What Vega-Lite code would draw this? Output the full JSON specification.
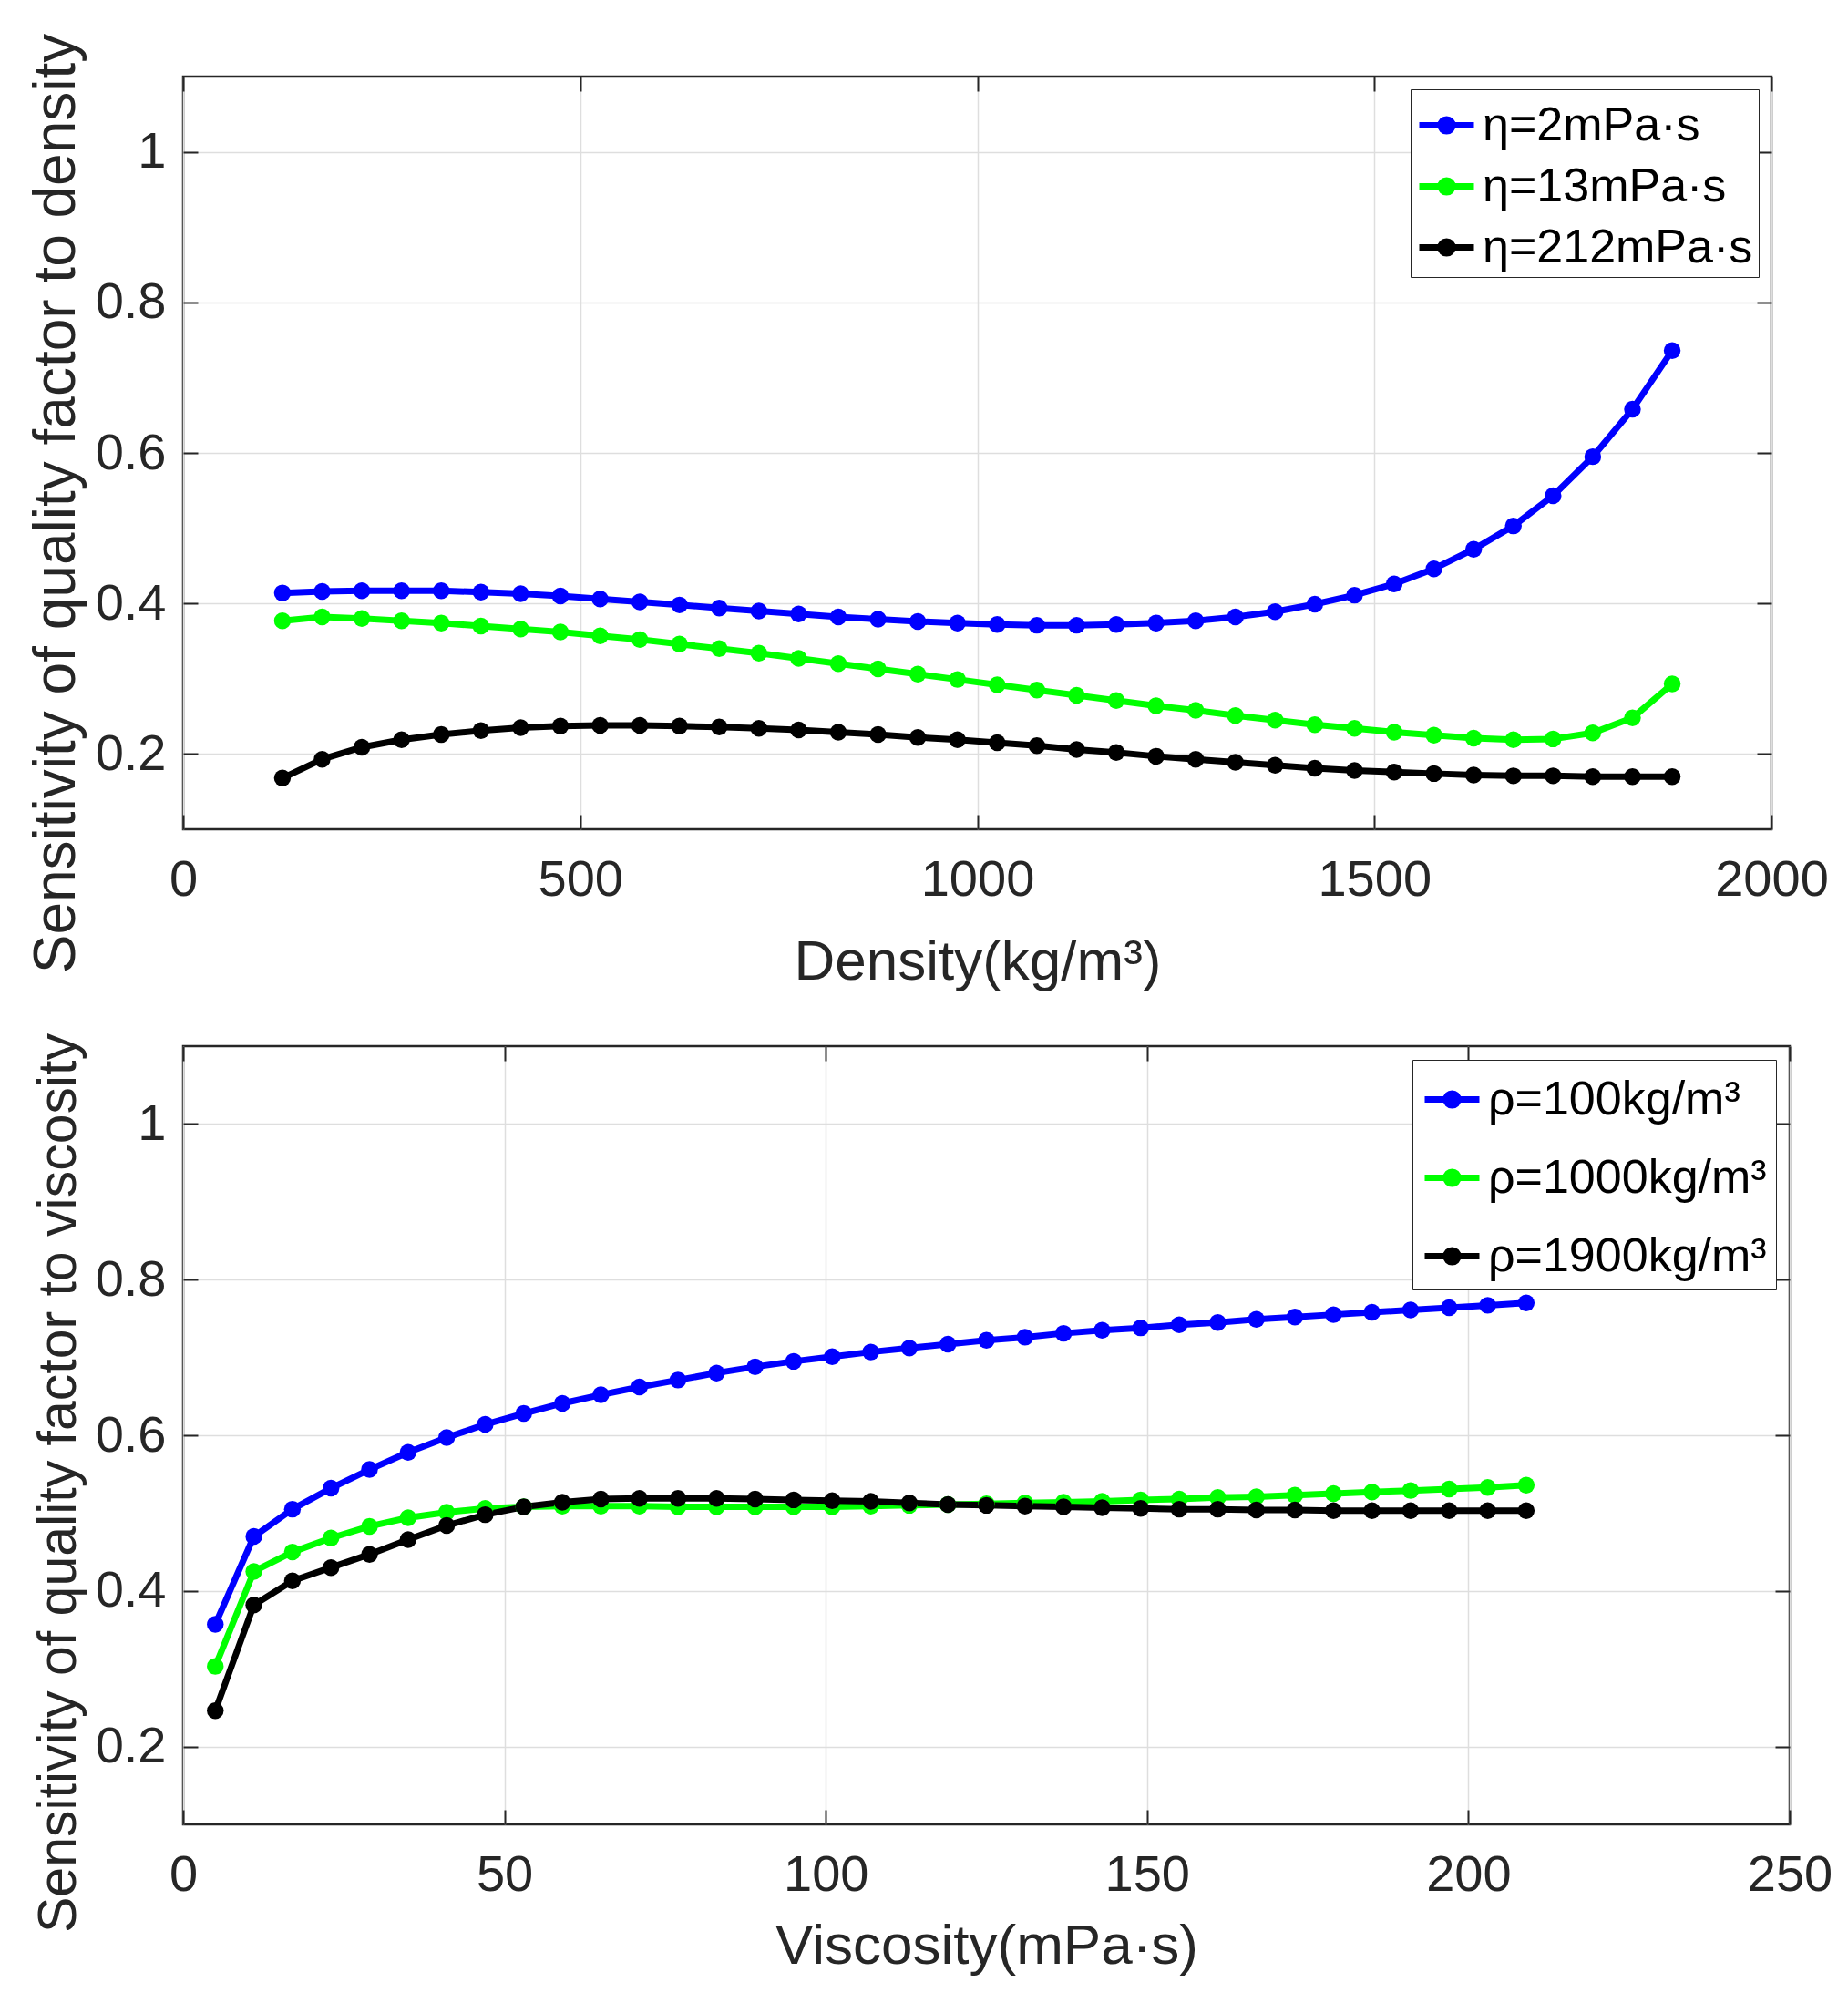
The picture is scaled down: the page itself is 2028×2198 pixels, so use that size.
{
  "$schema": "https://vega.github.io/schema/vega-lite/v6.json",
  "padding": {"left": 28, "top": 34, "right": 5, "bottom": 5},
  "background": "white",
  "datasets": {
    "density": [
      {"x": 125, "y": 0.414, "s": "η=2mPa·s"}, {"x": 175, "y": 0.416, "s": "η=2mPa·s"}, {"x": 225, "y": 0.417, "s": "η=2mPa·s"},
      {"x": 275, "y": 0.417, "s": "η=2mPa·s"}, {"x": 325, "y": 0.417, "s": "η=2mPa·s"}, {"x": 375, "y": 0.415, "s": "η=2mPa·s"},
      {"x": 425, "y": 0.413, "s": "η=2mPa·s"}, {"x": 475, "y": 0.410, "s": "η=2mPa·s"}, {"x": 525, "y": 0.406, "s": "η=2mPa·s"},
      {"x": 575, "y": 0.402, "s": "η=2mPa·s"}, {"x": 625, "y": 0.398, "s": "η=2mPa·s"}, {"x": 675, "y": 0.394, "s": "η=2mPa·s"},
      {"x": 725, "y": 0.390, "s": "η=2mPa·s"}, {"x": 775, "y": 0.386, "s": "η=2mPa·s"}, {"x": 825, "y": 0.382, "s": "η=2mPa·s"},
      {"x": 875, "y": 0.379, "s": "η=2mPa·s"}, {"x": 925, "y": 0.376, "s": "η=2mPa·s"}, {"x": 975, "y": 0.374, "s": "η=2mPa·s"},
      {"x": 1025, "y": 0.372, "s": "η=2mPa·s"}, {"x": 1075, "y": 0.371, "s": "η=2mPa·s"}, {"x": 1125, "y": 0.371, "s": "η=2mPa·s"},
      {"x": 1175, "y": 0.372, "s": "η=2mPa·s"}, {"x": 1225, "y": 0.374, "s": "η=2mPa·s"}, {"x": 1275, "y": 0.377, "s": "η=2mPa·s"},
      {"x": 1325, "y": 0.382, "s": "η=2mPa·s"}, {"x": 1375, "y": 0.389, "s": "η=2mPa·s"}, {"x": 1425, "y": 0.399, "s": "η=2mPa·s"},
      {"x": 1475, "y": 0.411, "s": "η=2mPa·s"}, {"x": 1525, "y": 0.426, "s": "η=2mPa·s"}, {"x": 1575, "y": 0.446, "s": "η=2mPa·s"},
      {"x": 1625, "y": 0.472, "s": "η=2mPa·s"}, {"x": 1675, "y": 0.503, "s": "η=2mPa·s"}, {"x": 1725, "y": 0.543, "s": "η=2mPa·s"},
      {"x": 1775, "y": 0.595, "s": "η=2mPa·s"}, {"x": 1825, "y": 0.658, "s": "η=2mPa·s"}, {"x": 1875, "y": 0.736, "s": "η=2mPa·s"},
      {"x": 125, "y": 0.377, "s": "η=13mPa·s"}, {"x": 175, "y": 0.382, "s": "η=13mPa·s"}, {"x": 225, "y": 0.380, "s": "η=13mPa·s"},
      {"x": 275, "y": 0.377, "s": "η=13mPa·s"}, {"x": 325, "y": 0.374, "s": "η=13mPa·s"}, {"x": 375, "y": 0.370, "s": "η=13mPa·s"},
      {"x": 425, "y": 0.366, "s": "η=13mPa·s"}, {"x": 475, "y": 0.362, "s": "η=13mPa·s"}, {"x": 525, "y": 0.357, "s": "η=13mPa·s"},
      {"x": 575, "y": 0.352, "s": "η=13mPa·s"}, {"x": 625, "y": 0.346, "s": "η=13mPa·s"}, {"x": 675, "y": 0.340, "s": "η=13mPa·s"},
      {"x": 725, "y": 0.334, "s": "η=13mPa·s"}, {"x": 775, "y": 0.327, "s": "η=13mPa·s"}, {"x": 825, "y": 0.320, "s": "η=13mPa·s"},
      {"x": 875, "y": 0.313, "s": "η=13mPa·s"}, {"x": 925, "y": 0.306, "s": "η=13mPa·s"}, {"x": 975, "y": 0.299, "s": "η=13mPa·s"},
      {"x": 1025, "y": 0.292, "s": "η=13mPa·s"}, {"x": 1075, "y": 0.285, "s": "η=13mPa·s"}, {"x": 1125, "y": 0.278, "s": "η=13mPa·s"},
      {"x": 1175, "y": 0.271, "s": "η=13mPa·s"}, {"x": 1225, "y": 0.264, "s": "η=13mPa·s"}, {"x": 1275, "y": 0.258, "s": "η=13mPa·s"},
      {"x": 1325, "y": 0.251, "s": "η=13mPa·s"}, {"x": 1375, "y": 0.245, "s": "η=13mPa·s"}, {"x": 1425, "y": 0.239, "s": "η=13mPa·s"},
      {"x": 1475, "y": 0.234, "s": "η=13mPa·s"}, {"x": 1525, "y": 0.229, "s": "η=13mPa·s"}, {"x": 1575, "y": 0.225, "s": "η=13mPa·s"},
      {"x": 1625, "y": 0.221, "s": "η=13mPa·s"}, {"x": 1675, "y": 0.219, "s": "η=13mPa·s"}, {"x": 1725, "y": 0.220, "s": "η=13mPa·s"},
      {"x": 1775, "y": 0.228, "s": "η=13mPa·s"}, {"x": 1825, "y": 0.248, "s": "η=13mPa·s"}, {"x": 1875, "y": 0.293, "s": "η=13mPa·s"},
      {"x": 125, "y": 0.168, "s": "η=212mPa·s"}, {"x": 175, "y": 0.193, "s": "η=212mPa·s"}, {"x": 225, "y": 0.209, "s": "η=212mPa·s"},
      {"x": 275, "y": 0.219, "s": "η=212mPa·s"}, {"x": 325, "y": 0.226, "s": "η=212mPa·s"}, {"x": 375, "y": 0.231, "s": "η=212mPa·s"},
      {"x": 425, "y": 0.235, "s": "η=212mPa·s"}, {"x": 475, "y": 0.237, "s": "η=212mPa·s"}, {"x": 525, "y": 0.238, "s": "η=212mPa·s"},
      {"x": 575, "y": 0.238, "s": "η=212mPa·s"}, {"x": 625, "y": 0.237, "s": "η=212mPa·s"}, {"x": 675, "y": 0.236, "s": "η=212mPa·s"},
      {"x": 725, "y": 0.234, "s": "η=212mPa·s"}, {"x": 775, "y": 0.232, "s": "η=212mPa·s"}, {"x": 825, "y": 0.229, "s": "η=212mPa·s"},
      {"x": 875, "y": 0.226, "s": "η=212mPa·s"}, {"x": 925, "y": 0.222, "s": "η=212mPa·s"}, {"x": 975, "y": 0.219, "s": "η=212mPa·s"},
      {"x": 1025, "y": 0.215, "s": "η=212mPa·s"}, {"x": 1075, "y": 0.211, "s": "η=212mPa·s"}, {"x": 1125, "y": 0.206, "s": "η=212mPa·s"},
      {"x": 1175, "y": 0.202, "s": "η=212mPa·s"}, {"x": 1225, "y": 0.197, "s": "η=212mPa·s"}, {"x": 1275, "y": 0.193, "s": "η=212mPa·s"},
      {"x": 1325, "y": 0.189, "s": "η=212mPa·s"}, {"x": 1375, "y": 0.185, "s": "η=212mPa·s"}, {"x": 1425, "y": 0.181, "s": "η=212mPa·s"},
      {"x": 1475, "y": 0.178, "s": "η=212mPa·s"}, {"x": 1525, "y": 0.176, "s": "η=212mPa·s"}, {"x": 1575, "y": 0.174, "s": "η=212mPa·s"},
      {"x": 1625, "y": 0.172, "s": "η=212mPa·s"}, {"x": 1675, "y": 0.171, "s": "η=212mPa·s"}, {"x": 1725, "y": 0.171, "s": "η=212mPa·s"},
      {"x": 1775, "y": 0.170, "s": "η=212mPa·s"}, {"x": 1825, "y": 0.170, "s": "η=212mPa·s"}, {"x": 1875, "y": 0.170, "s": "η=212mPa·s"}
    ],
    "viscosity": [
      {"x": 5, "y": 0.357, "s": "ρ=100kg/m³"}, {"x": 11, "y": 0.470, "s": "ρ=100kg/m³"}, {"x": 17, "y": 0.505, "s": "ρ=100kg/m³"},
      {"x": 23, "y": 0.532, "s": "ρ=100kg/m³"}, {"x": 29, "y": 0.556, "s": "ρ=100kg/m³"}, {"x": 35, "y": 0.578, "s": "ρ=100kg/m³"},
      {"x": 41, "y": 0.597, "s": "ρ=100kg/m³"}, {"x": 47, "y": 0.614, "s": "ρ=100kg/m³"}, {"x": 53, "y": 0.628, "s": "ρ=100kg/m³"},
      {"x": 59, "y": 0.641, "s": "ρ=100kg/m³"}, {"x": 65, "y": 0.652, "s": "ρ=100kg/m³"}, {"x": 71, "y": 0.662, "s": "ρ=100kg/m³"},
      {"x": 77, "y": 0.671, "s": "ρ=100kg/m³"}, {"x": 83, "y": 0.680, "s": "ρ=100kg/m³"}, {"x": 89, "y": 0.688, "s": "ρ=100kg/m³"},
      {"x": 95, "y": 0.695, "s": "ρ=100kg/m³"}, {"x": 101, "y": 0.701, "s": "ρ=100kg/m³"}, {"x": 107, "y": 0.707, "s": "ρ=100kg/m³"},
      {"x": 113, "y": 0.712, "s": "ρ=100kg/m³"}, {"x": 119, "y": 0.717, "s": "ρ=100kg/m³"}, {"x": 125, "y": 0.722, "s": "ρ=100kg/m³"},
      {"x": 131, "y": 0.726, "s": "ρ=100kg/m³"}, {"x": 137, "y": 0.731, "s": "ρ=100kg/m³"}, {"x": 143, "y": 0.735, "s": "ρ=100kg/m³"},
      {"x": 149, "y": 0.738, "s": "ρ=100kg/m³"}, {"x": 155, "y": 0.742, "s": "ρ=100kg/m³"}, {"x": 161, "y": 0.745, "s": "ρ=100kg/m³"},
      {"x": 167, "y": 0.749, "s": "ρ=100kg/m³"}, {"x": 173, "y": 0.752, "s": "ρ=100kg/m³"}, {"x": 179, "y": 0.755, "s": "ρ=100kg/m³"},
      {"x": 185, "y": 0.758, "s": "ρ=100kg/m³"}, {"x": 191, "y": 0.761, "s": "ρ=100kg/m³"}, {"x": 197, "y": 0.764, "s": "ρ=100kg/m³"},
      {"x": 203, "y": 0.767, "s": "ρ=100kg/m³"}, {"x": 209, "y": 0.770, "s": "ρ=100kg/m³"},
      {"x": 5, "y": 0.303, "s": "ρ=1000kg/m³"}, {"x": 11, "y": 0.425, "s": "ρ=1000kg/m³"}, {"x": 17, "y": 0.450, "s": "ρ=1000kg/m³"},
      {"x": 23, "y": 0.468, "s": "ρ=1000kg/m³"}, {"x": 29, "y": 0.483, "s": "ρ=1000kg/m³"}, {"x": 35, "y": 0.494, "s": "ρ=1000kg/m³"},
      {"x": 41, "y": 0.501, "s": "ρ=1000kg/m³"}, {"x": 47, "y": 0.506, "s": "ρ=1000kg/m³"}, {"x": 53, "y": 0.508, "s": "ρ=1000kg/m³"},
      {"x": 59, "y": 0.509, "s": "ρ=1000kg/m³"}, {"x": 65, "y": 0.509, "s": "ρ=1000kg/m³"}, {"x": 71, "y": 0.509, "s": "ρ=1000kg/m³"},
      {"x": 77, "y": 0.508, "s": "ρ=1000kg/m³"}, {"x": 83, "y": 0.508, "s": "ρ=1000kg/m³"}, {"x": 89, "y": 0.508, "s": "ρ=1000kg/m³"},
      {"x": 95, "y": 0.508, "s": "ρ=1000kg/m³"}, {"x": 101, "y": 0.508, "s": "ρ=1000kg/m³"}, {"x": 107, "y": 0.509, "s": "ρ=1000kg/m³"},
      {"x": 113, "y": 0.510, "s": "ρ=1000kg/m³"}, {"x": 119, "y": 0.511, "s": "ρ=1000kg/m³"}, {"x": 125, "y": 0.512, "s": "ρ=1000kg/m³"},
      {"x": 131, "y": 0.513, "s": "ρ=1000kg/m³"}, {"x": 137, "y": 0.514, "s": "ρ=1000kg/m³"}, {"x": 143, "y": 0.515, "s": "ρ=1000kg/m³"},
      {"x": 149, "y": 0.517, "s": "ρ=1000kg/m³"}, {"x": 155, "y": 0.518, "s": "ρ=1000kg/m³"}, {"x": 161, "y": 0.520, "s": "ρ=1000kg/m³"},
      {"x": 167, "y": 0.521, "s": "ρ=1000kg/m³"}, {"x": 173, "y": 0.523, "s": "ρ=1000kg/m³"}, {"x": 179, "y": 0.525, "s": "ρ=1000kg/m³"},
      {"x": 185, "y": 0.527, "s": "ρ=1000kg/m³"}, {"x": 191, "y": 0.529, "s": "ρ=1000kg/m³"}, {"x": 197, "y": 0.531, "s": "ρ=1000kg/m³"},
      {"x": 203, "y": 0.533, "s": "ρ=1000kg/m³"}, {"x": 209, "y": 0.536, "s": "ρ=1000kg/m³"},
      {"x": 5, "y": 0.246, "s": "ρ=1900kg/m³"}, {"x": 11, "y": 0.382, "s": "ρ=1900kg/m³"}, {"x": 17, "y": 0.413, "s": "ρ=1900kg/m³"},
      {"x": 23, "y": 0.430, "s": "ρ=1900kg/m³"}, {"x": 29, "y": 0.447, "s": "ρ=1900kg/m³"}, {"x": 35, "y": 0.466, "s": "ρ=1900kg/m³"},
      {"x": 41, "y": 0.484, "s": "ρ=1900kg/m³"}, {"x": 47, "y": 0.498, "s": "ρ=1900kg/m³"}, {"x": 53, "y": 0.508, "s": "ρ=1900kg/m³"},
      {"x": 59, "y": 0.514, "s": "ρ=1900kg/m³"}, {"x": 65, "y": 0.518, "s": "ρ=1900kg/m³"}, {"x": 71, "y": 0.519, "s": "ρ=1900kg/m³"},
      {"x": 77, "y": 0.519, "s": "ρ=1900kg/m³"}, {"x": 83, "y": 0.519, "s": "ρ=1900kg/m³"}, {"x": 89, "y": 0.518, "s": "ρ=1900kg/m³"},
      {"x": 95, "y": 0.517, "s": "ρ=1900kg/m³"}, {"x": 101, "y": 0.516, "s": "ρ=1900kg/m³"}, {"x": 107, "y": 0.515, "s": "ρ=1900kg/m³"},
      {"x": 113, "y": 0.513, "s": "ρ=1900kg/m³"}, {"x": 119, "y": 0.511, "s": "ρ=1900kg/m³"}, {"x": 125, "y": 0.510, "s": "ρ=1900kg/m³"},
      {"x": 131, "y": 0.509, "s": "ρ=1900kg/m³"}, {"x": 137, "y": 0.508, "s": "ρ=1900kg/m³"}, {"x": 143, "y": 0.507, "s": "ρ=1900kg/m³"},
      {"x": 149, "y": 0.506, "s": "ρ=1900kg/m³"}, {"x": 155, "y": 0.505, "s": "ρ=1900kg/m³"}, {"x": 161, "y": 0.505, "s": "ρ=1900kg/m³"},
      {"x": 167, "y": 0.504, "s": "ρ=1900kg/m³"}, {"x": 173, "y": 0.504, "s": "ρ=1900kg/m³"}, {"x": 179, "y": 0.503, "s": "ρ=1900kg/m³"},
      {"x": 185, "y": 0.503, "s": "ρ=1900kg/m³"}, {"x": 191, "y": 0.503, "s": "ρ=1900kg/m³"}, {"x": 197, "y": 0.503, "s": "ρ=1900kg/m³"},
      {"x": 203, "y": 0.503, "s": "ρ=1900kg/m³"}, {"x": 209, "y": 0.503, "s": "ρ=1900kg/m³"}
    ]
  },
  "vconcat": [
    {
      "width": 1743,
      "height": 826,
      "data": {"name": "density"},
      "layer": [
        {
          "mark": {"type": "line", "strokeWidth": 7, "strokeJoin": "round"},
          "encoding": {
            "x": {"field": "x", "type": "quantitative", "scale": {"domain": [0, 2000], "nice": false},
                  "axis": {"title": "Density(kg/m³)", "values": [0, 500, 1000, 1500, 2000], "format": "d", "titlePadding": 32}},
            "y": {"field": "y", "type": "quantitative", "scale": {"domain": [0.1, 1.1], "nice": false, "zero": false},
                  "axis": {"title": "Sensitivity of quality factor to density", "values": [0.2, 0.4, 0.6, 0.8, 1], "format": "~g", "titleY": 468, "titleFontSize": 64}},
            "color": {"field": "s", "type": "nominal",
                      "scale": {"domain": ["η=2mPa·s", "η=13mPa·s", "η=212mPa·s"], "range": ["#0000ff", "#00ff00", "#000000"]},
                      "legend": {"title": null}}
          }
        },
        {
          "mark": {"type": "point", "filled": true, "size": 340, "opacity": 1},
          "encoding": {
            "x": {"field": "x", "type": "quantitative",
                  "axis": {"orient": "top", "labels": false, "title": null, "grid": false, "values": [0, 500, 1000, 1500, 2000]}},
            "y": {"field": "y", "type": "quantitative",
                  "axis": {"orient": "right", "labels": false, "title": null, "grid": false, "values": [0.2, 0.4, 0.6, 0.8, 1]}},
            "color": {"field": "s", "type": "nominal"}
          }
        }
      ],
      "resolve": {"axis": {"x": "independent", "y": "independent"}}
    },
    {
      "width": 1763,
      "height": 854,
      "data": {"name": "viscosity"},
      "layer": [
        {
          "mark": {"type": "line", "strokeWidth": 7, "strokeJoin": "round"},
          "encoding": {
            "x": {"field": "x", "type": "quantitative", "scale": {"domain": [0, 250], "nice": false},
                  "axis": {"title": "Viscosity(mPa·s)", "values": [0, 50, 100, 150, 200, 250], "format": "d"}},
            "y": {"field": "y", "type": "quantitative", "scale": {"domain": [0.1, 1.1], "nice": false, "zero": false},
                  "axis": {"title": "Sensitivity of quality factor to viscosity", "values": [0.2, 0.4, 0.6, 0.8, 1], "format": "~g", "titleY": 479, "titleFontSize": 59}},
            "color": {"field": "s", "type": "nominal",
                      "scale": {"domain": ["ρ=100kg/m³", "ρ=1000kg/m³", "ρ=1900kg/m³"], "range": ["#0000ff", "#00ff00", "#000000"]},
                      "legend": {"title": null, "offset": 15, "padding": 10, "rowPadding": 26}}
          }
        },
        {
          "mark": {"type": "point", "filled": true, "size": 340, "opacity": 1},
          "encoding": {
            "x": {"field": "x", "type": "quantitative",
                  "axis": {"orient": "top", "labels": false, "title": null, "grid": false, "values": [0, 50, 100, 150, 200, 250]}},
            "y": {"field": "y", "type": "quantitative",
                  "axis": {"orient": "right", "labels": false, "title": null, "grid": false, "values": [0.2, 0.4, 0.6, 0.8, 1]}},
            "color": {"field": "s", "type": "nominal"}
          }
        }
      ],
      "resolve": {"axis": {"x": "independent", "y": "independent"}}
    }
  ],
  "spacing": 238,
  "bounds": "flush",
  "resolve": {"scale": {"color": "independent"}, "legend": {"color": "independent"}},
  "config": {
    "font": "Liberation Sans",
    "view": {"stroke": "#262626", "strokeWidth": 2.5},
    "axis": {
      "labelFont": "Liberation Sans",
      "labelFontSize": 56,
      "labelColor": "#262626",
      "titleFont": "Liberation Sans",
      "titleFontSize": 62,
      "titleFontWeight": "normal",
      "titleColor": "#262626",
      "tickColor": "#262626",
      "tickWidth": 2,
      "tickSize": -16,
      "domain": false,
      "gridColor": "#dedede",
      "gridWidth": 1.5,
      "labelFlush": false,
      "labelOverlap": false,
      "labelBound": false
    },
    "axisX": {"labelPadding": 44, "titlePadding": 20},
    "axisY": {"labelPadding": 35, "titlePadding": 10},
    "legend": {
      "orient": "top-right",
      "offset": 14,
      "symbolType": "M-1,0L1,0M0.22,0A0.22,0.22,0,1,1,-0.22,0A0.22,0.22,0,1,1,0.22,0M0.1,0A0.1,0.1,0,1,1,-0.1,0A0.1,0.1,0,1,1,0.1,0",
      "symbolSize": 3600,
      "symbolStrokeWidth": 7,
      "labelFont": "Liberation Sans",
      "labelFontSize": 52,
      "labelColor": "#000000",
      "labelOffset": 6,
      "strokeColor": "#262626",
      "fillColor": "#ffffff",
      "padding": 6,
      "rowPadding": 7,
      "labelLimit": 0
    }
  }
}
